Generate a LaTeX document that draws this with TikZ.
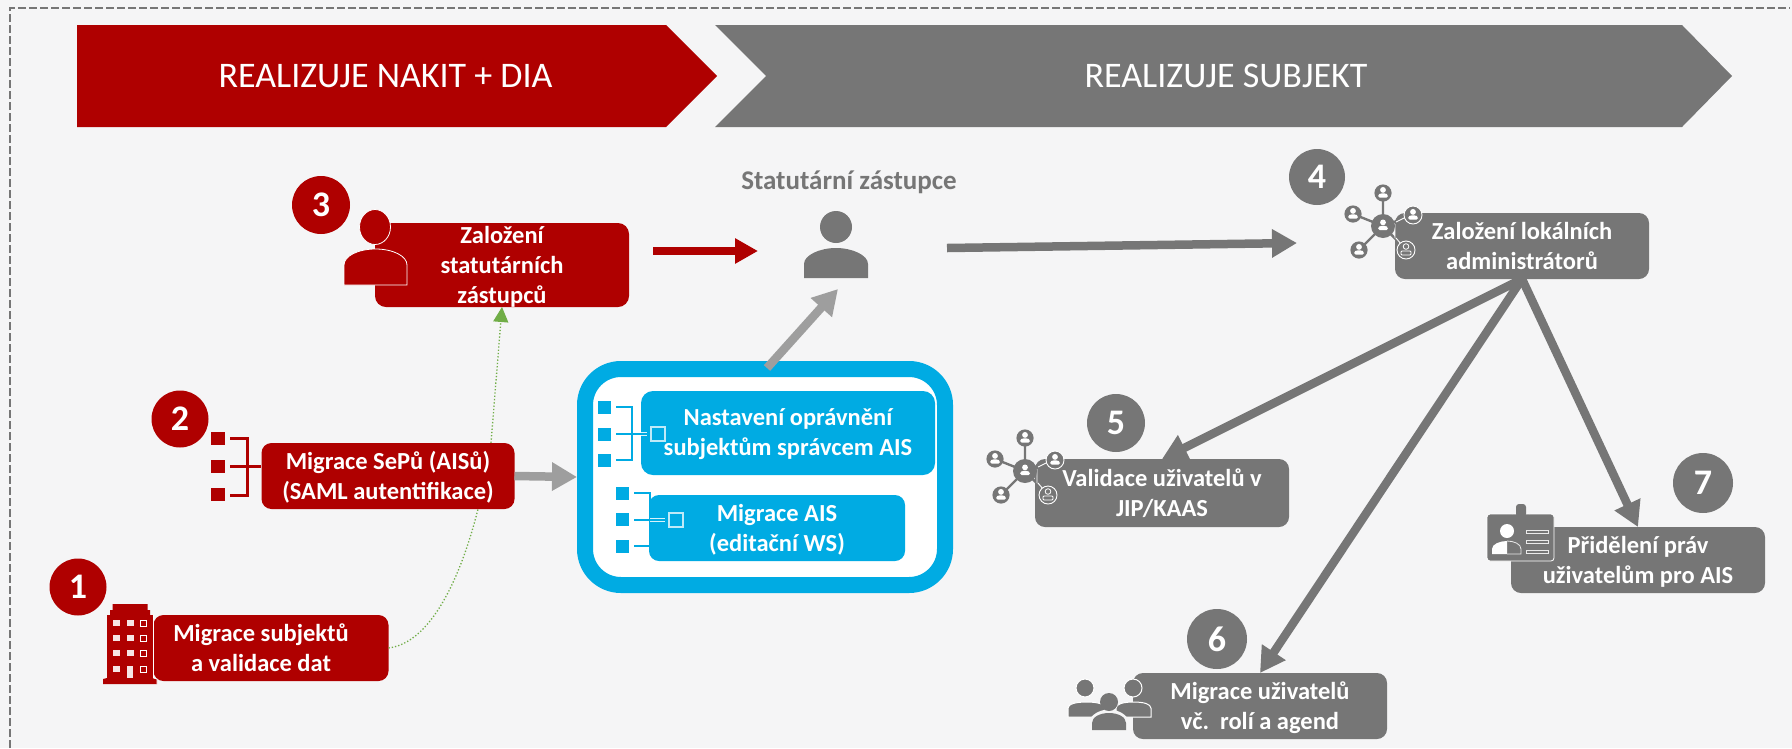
\documentclass[tikz,border=0pt]{standalone}
\usepackage{fontspec}
\setmainfont{Carlito}
\usetikzlibrary{arrows.meta}
\definecolor{nakred}{HTML}{AF0000}
\definecolor{subgray}{HTML}{767676}
\definecolor{arrgray}{HTML}{9E9E9E}
\definecolor{aisblue}{HTML}{00ABE3}
\definecolor{paper}{HTML}{F5F5F6}
\definecolor{greenarr}{HTML}{70AD47}
\tikzset{
  box/.style={rectangle,inner sep=0pt,outer sep=0pt,rounded corners=11pt,text=white,align=center,text depth=1pt,
    font=\fontsize{24.5}{30}\selectfont\bfseries},
  redbox/.style={box,fill=nakred},
  graybox/.style={box,fill=subgray},
  bluebox/.style={box,fill=aisblue},
  boxtext/.style={inner sep=0pt,text=white,align=center,text depth=1pt,font=\fontsize{24.5}{30}\selectfont\bfseries},
  badge/.style={circle,inner sep=0pt,outer sep=0pt,text=white,minimum size=58pt,font=\fontsize{36}{36}\selectfont\bfseries},
  banner/.style={inner sep=0pt,text=white,font=\fontsize{36}{40}\selectfont},
  bigarrow/.style={line width=8.5pt,-{Triangle[length=25pt,width=27pt]}},
}
\newcommand{\pershape}[8]{% cx cy r l t r b, colour
  \filldraw[fill=#8,draw=white,line width=1pt] (#1,#2) circle (#3);
  \filldraw[fill=#8,draw=white,line width=1pt] (#4,#7) -- (#4,{#5+0.42*(#7-#5)})
    .. controls (#4,{#5+0.12*(#7-#5)}) and ({#4+0.22*(#6-#4)},#5) .. ({(#4+#6)/2},#5)
    .. controls ({#6-0.22*(#6-#4)},#5) and (#6,{#5+0.12*(#7-#5)}) .. (#6,{#5+0.42*(#7-#5)})
    -- (#6,#7) -- cycle;
}
\newcommand{\minipers}[3]{% x y colour
  \fill[#3] (#1,{#2-2.6}) circle (2.9);
  \fill[#3,rounded corners=1.5pt] ({#1-5},{#2+5}) -- ({#1-5},{#2+2.2}) -- ({#1-2.5},{#2+0.8}) -- ({#1+2.5},{#2+0.8}) -- ({#1+5},{#2+2.2}) -- ({#1+5},{#2+5}) -- cycle;
}
\newcommand{\netw}{%
  \draw[subgray,line width=2.4pt] (1383,226) -- (1383,193) (1383,226) -- (1353,214) (1383,226) -- (1359,250) (1383,226) -- (1406,250) (1383,226) -- (1413,215);
  \draw[white,line width=0.9pt] (1396,222) -- (1406,217) (1395,238) -- (1395,224) (1396,238) -- (1401,244);
  \fill[subgray] (1383,226) circle (12);
  \minipers{1383}{225}{white}
  \fill[subgray] (1383,193) circle (8.6);
  \minipers{1383}{192.5}{white}
  \fill[subgray] (1353,214) circle (8.6);
  \minipers{1353}{213.5}{white}
  \fill[subgray] (1359,250) circle (8.6);
  \minipers{1359}{249.5}{white}
  \filldraw[fill=subgray,draw=white,line width=0.9pt] (1413,215) circle (9);
  \minipers{1413}{214.5}{white}
  \filldraw[fill=subgray,draw=white,line width=0.9pt] (1406,250) circle (9);
  \draw[white,line width=0.8pt] (1406,246.5) circle (2.8);
  \draw[white,line width=0.8pt,rounded corners=1pt] (1401,255) rectangle (1411,251);
}
\begin{document}
\begin{tikzpicture}[x=1pt,y=-1pt]
\useasboundingbox (0,0) rectangle (1792,748);
\fill[paper] (0,0) rectangle (1792,748);
% dashed frame
\coordinate (fa) at (10,748);
\coordinate (fb) at (10,8);
\coordinate (fc) at (1790,8);
\draw[subgray,line width=2.6pt,dash pattern=on 8pt off 3pt] (fa) -- (fb) -- (fc);
% banners
\fill[nakred] (77,25) -- (666,25) -- (717,76) -- (666,127) -- (77,127) -- cycle;
\fill[subgray] (715,25) -- (1682,25) -- (1732,76) -- (1682,127) -- (715,127) -- (766,76) -- cycle;
\node[banner] (ban1) at (385.5,76) {REALIZUJE NAKIT + DIA};
\node[banner] (ban2) at (1226,76) {REALIZUJE SUBJEKT};
% boxes
\node[redbox,minimum width=254pt,minimum height=84pt] (stat) at (502,265) {Založení\\statutárních\\zástupců};
\node[redbox,rounded corners=10pt,minimum width=235pt,minimum height=66pt] (subj) at (271,648) {};
\node[boxtext] (subjt) at (261,648) {Migrace subjektů\\a validace dat};
% green curve (behind the SeP box)
\coordinate (gmid) at (491,443);
\draw[greenarr,line width=1.3pt,dotted] (subj.east) .. controls (440,642) and (476,545) .. (gmid);
\draw[greenarr,line width=1.3pt,dotted,-{Triangle[length=15pt,width=15pt,fill=greenarr]}] (gmid) -- (stat.south);
\node[redbox,rounded corners=10pt,minimum width=253pt,minimum height=66pt] (sep) at (388,476) {Migrace SePů (AISů)\\(SAML autentifikace)};
% blue group
\node[rectangle,draw=aisblue,fill=white,line width=16pt,rounded corners=36pt,minimum width=360pt,minimum height=216pt,inner sep=0pt,outer sep=8pt] (outer) at (765,477) {};
\node[bluebox,minimum width=294pt,minimum height=84pt,rounded corners=12pt] (blue1) at (788,433) {Nastavení oprávnění\\subjektům správcem AIS};
\node[bluebox,rounded corners=10pt,minimum width=256pt,minimum height=66pt] (blue2) at (777,528) {Migrace AIS\\(editační WS)};
% gray boxes
\node[graybox,rounded corners=10pt,minimum width=254pt,minimum height=66pt] (lok) at (1522,246) {Založení lokálních\\administrátorů};
\node[graybox,rounded corners=10pt,minimum width=254pt,minimum height=68pt] (val) at (1162,493) {Validace uživatelů v\\JIP/KAAS};
\node[graybox,rounded corners=10pt,minimum width=254pt,minimum height=66pt] (mig) at (1260,706) {Migrace uživatelů\\vč.\ \ rolí a agend};
\node[graybox,rounded corners=10pt,minimum width=254pt,minimum height=66pt] (prid) at (1638,560) {Přidělení práv\\uživatelům pro AIS};
% badges
\node[badge,fill=nakred] (n3) at (321,205) {3};
\node[badge,fill=nakred,minimum size=57pt] (n2) at (180,419) {2};
\node[badge,fill=nakred,minimum size=57pt] (n1) at (78,587) {1};
\node[badge,fill=subgray,minimum size=56pt] (n4) at (1317,177) {4};
\node[badge,fill=subgray] (n5) at (1116,423) {5};
\node[badge,fill=subgray,minimum size=60pt] (n6) at (1217,639) {6};
\node[badge,fill=subgray,minimum size=60pt] (n7) at (1703,483) {7};
% person icons
\filldraw[fill=nakred,draw=white,line width=0.8pt] (375,227) ellipse (15.5 and 17.5);
\filldraw[fill=nakred,draw=white,line width=0.8pt] (344,285) -- (344,265) .. controls (344,256) and (358,249) .. (375.5,249) .. controls (393,249) and (407,256) .. (407,265) -- (407,285) -- cycle;
\fill[subgray] (836,227) circle (16);
\fill[subgray] (804,278) -- (804,264) .. controls (804,255) and (820,248) .. (836,248) .. controls (852,248) and (868,255) .. (868,264) -- (868,278) -- cycle;
\coordinate (pers) at (838,289);
% building
\fill[nakred] (103,684) -- (103,679) -- (107,678) -- (107,615) -- (110,615) -- (110,610) -- (112.5,610) -- (112.5,604) -- (147.5,604) -- (147.5,610) -- (150,610) -- (150,615) -- (153.5,615) -- (153.5,678) -- (157,679) -- (157,684) -- cycle;
\draw[white,line width=0.8pt] (153.5,615) -- (153.5,678) -- (157,679) -- (157,684);
\foreach \yy in {623,638,653,669}{
  \fill[white!90!nakred] (112.5,\yy-3.2) rectangle (119.5,\yy+3.2);
  \filldraw[fill=nakred,draw=white,line width=0.8pt] (140.5,\yy-3) rectangle (146.5,\yy+3);
}
\foreach \yy in {623,638,653}{\fill[white!90!nakred] (126.5,\yy-3.2) rectangle (133.5,\yy+3.2);}
\fill[white!90!nakred] (127,666) rectangle (133,678);
% bracket 2
\foreach \yy in {432,460,488}{\fill[nakred] (211,\yy) rectangle (225,\yy+13);}
\draw[nakred,line width=3pt] (230,438) -- (247,438) -- (247,495) -- (230,495) (230,466) -- (261,466);
% blue bracket 1
\foreach \yy in {401,428,454}{\fill[aisblue] (598,\yy) rectangle (611,\yy+13);}
\draw[aisblue,line width=2.2pt] (616,407) -- (632,407) -- (632,460) -- (616,460) (616,434) -- (641,434);
\draw[white!85!aisblue,line width=1pt] (641,432.5) -- (647,432.5) (641,435.5) -- (647,435.5);
\draw[white!75!aisblue,line width=1.1pt] (651,427) rectangle (665,441);
% blue bracket 2
\foreach \yy in {487,513,540}{\fill[aisblue] (616,\yy) rectangle (629,\yy+13);}
\draw[aisblue,line width=2.2pt] (634,493) -- (650,493) -- (650,546) -- (634,546) (634,520) -- (649,520);
\draw[white!85!aisblue,line width=1pt] (650,518.5) -- (665,518.5) (650,521.5) -- (665,521.5);
\draw[white!75!aisblue,line width=1.1pt] (669,513) rectangle (683,527);
% network icons
\netw
\begin{scope}[shift={(-358,245)}]\netw\end{scope}
% group icon
\pershape{1133}{688}{9}{1116}{702}{1151}{717}{subgray}
\pershape{1085}{688}{9}{1068}{702}{1105}{717}{subgray}
\draw[paper,line width=6pt] (1088,732) .. controls (1090,706) and (1128,706) .. (1130,732);
\fill[subgray] (1109,702) circle (9);
\fill[subgray] (1092,730) -- (1092,723) .. controls (1092,717) and (1100,713) .. (1109,713) .. controls (1118,713) and (1126,717) .. (1126,723) -- (1126,730) -- cycle;
% id badge icon
\filldraw[fill=subgray,draw=white,line width=0.8pt,rounded corners=3pt] (1487,514) rectangle (1554,561);
\draw[paper,line width=1.3pt] (1512,514) arc (180:360:9 and 7);
\fill[subgray,rounded corners=3pt] (1516,504) rectangle (1526,517);
\fill[white] (1507,531) circle (7);
\fill[white] (1492,554) -- (1492,549) .. controls (1492,544) and (1500,541) .. (1507,541) -- (1507,554) -- cycle;
\draw[white!85!subgray,line width=0.8pt] (1507,541) .. controls (1514,541) and (1521,544) .. (1521,549) -- (1521,554) -- (1507,554);
\foreach \yy in {532,542,552}{\draw[white!85!subgray,line width=0.9pt] (1526,\yy-1.8) rectangle (1548,\yy+1.8);}
% free text
\node[inner sep=0pt,text=subgray,font=\fontsize{27}{30}\selectfont\bfseries] (stz) at (849,182) {Statutární zástupce};
% connectors
\coordinate (ra) at (653,251);
\coordinate (rb) at (758,251);
\draw[nakred,line width=7.5pt,-{Triangle[length=23pt,width=24pt]}] (ra) -- (rb);
\coordinate (ga) at (947,248);
\coordinate (gb) at (1297,243);
\draw[subgray,bigarrow] (ga) -- (gb);
\coordinate (bga) at (767,368);
\draw[arrgray,bigarrow] (bga) -- (pers);
\draw[arrgray,bigarrow] (sep.east) -- (outer.west);
\draw[subgray,bigarrow] (lok.south) -- (val.north);
\draw[subgray,bigarrow] (lok.south) -- (mig.north);
\draw[subgray,bigarrow] (lok.south) -- (prid.north);
\end{tikzpicture}
\end{document}
